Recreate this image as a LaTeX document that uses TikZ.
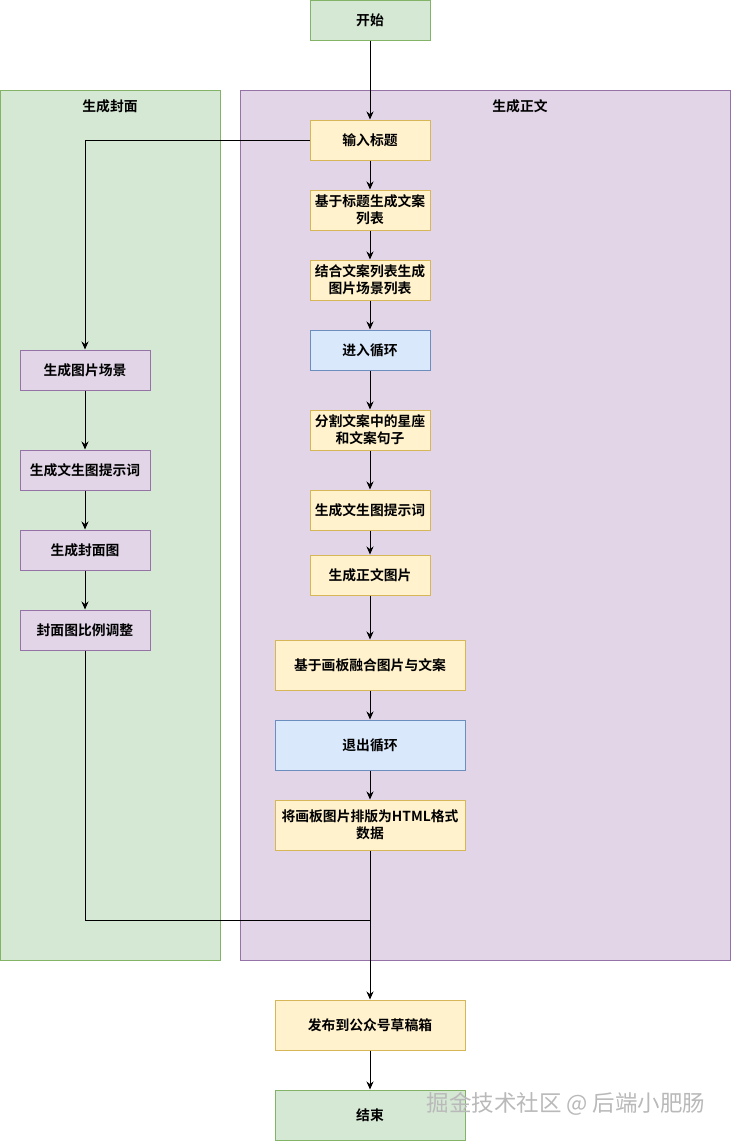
\documentclass[tikz,border=0pt]{standalone}
\usepackage{fontspec}
\setmainfont{Liberation Sans}
\newfontfamily\cjk{Noto Sans CJK SC}[BoldFont={Noto Sans CJK SC Bold}]
\usetikzlibrary{arrows.meta}
\definecolor{gfill}{HTML}{D5E8D4}\definecolor{gline}{HTML}{82B366}
\definecolor{pfill}{HTML}{E1D5E7}\definecolor{pline}{HTML}{9673A6}
\definecolor{yfill}{HTML}{FFF2CC}\definecolor{yline}{HTML}{D6B656}
\definecolor{bfill}{HTML}{DAE8FC}\definecolor{bline}{HTML}{6C8EBF}
\tikzset{
  base/.style={draw, line width=1pt, inner sep=0pt, align=center,
    font=\cjk\bfseries\fontsize{13.8}{16.7}\selectfont},
  gbox/.style={base, fill=gfill, draw=gline},
  pbox/.style={base, fill=pfill, draw=pline},
  ybox/.style={base, fill=yfill, draw=yline},
  bbox/.style={base, fill=bfill, draw=bline},
  narrow/.style={minimum width=120pt, minimum height=40pt},
  left/.style={minimum width=130pt, minimum height=40pt},
  wide/.style={minimum width=190pt, minimum height=50pt},
  cont/.style={draw, line width=1pt, inner sep=0pt},
  ctitle/.style={font=\cjk\bfseries\fontsize{13.8}{16.7}\selectfont, inner sep=0pt},
  conn/.style={line width=1pt, -{Stealth[length=8pt,width=7pt]}},
  plain/.style={line width=1pt}
}
\begin{document}
\begin{tikzpicture}[x=1pt,y=-1pt]
\useasboundingbox (0,0) rectangle (731,1141);
% containers
\node[cont, fill=gfill, draw=gline, minimum width=220pt, minimum height=870pt] (lc) at (110,525) {};
\node[cont, fill=pfill, draw=pline, minimum width=490pt, minimum height=870pt] (rc) at (485,525) {};
\node[ctitle] (lct) at (110,106) {生成封面};
\node[ctitle] (rct) at (520,106) {生成正文};
% main column
\node[gbox, narrow] (start) at (370,20) {开始};
\node[ybox, narrow] (n1) at (370,140) {输入标题};
\node[ybox, narrow] (n2) at (370,210) {基于标题生成文案\\列表};
\node[ybox, narrow] (n3) at (370,280) {结合文案列表生成\\图片场景列表};
\node[bbox, narrow] (n4) at (370,350) {进入循环};
\node[ybox, narrow] (n5) at (370,430) {分割文案中的星座\\和文案句子};
\node[ybox, narrow] (n6) at (370,510) {生成文生图提示词};
\node[ybox, narrow] (n7) at (370,575) {生成正文图片};
\node[ybox, wide] (n8) at (370,665) {基于画板融合图片与文案};
\node[bbox, wide] (n9) at (370,745) {退出循环};
\node[ybox, wide] (n10) at (370,825) {将画板图片排版为HTML格式\\数据};
\node[ybox, wide] (n11) at (370,1025) {发布到公众号草稿箱};
\node[gbox, wide] (end) at (370,1115) {结束};
% left column
\node[pbox, left] (l1) at (85,370) {生成图片场景};
\node[pbox, left] (l2) at (85,470) {生成文生图提示词};
\node[pbox, left] (l3) at (85,550) {生成封面图};
\node[pbox, left] (l4) at (85,630) {封面图比例调整};
% connectors
\draw[conn] (start) -- (n1);
\draw[conn] (n1) -- (n2);
\draw[conn] (n2) -- (n3);
\draw[conn] (n3) -- (n4);
\draw[conn] (n4) -- (n5);
\draw[conn] (n5) -- (n6);
\draw[conn] (n6) -- (n7);
\draw[conn] (n7) -- (n8);
\draw[conn] (n8) -- (n9);
\draw[conn] (n9) -- (n10);
\draw[conn] (n10) -- (n11);
\draw[conn] (n11) -- (end);
\draw[conn] (n1.west) -| (l1.north);
\draw[conn] (l1) -- (l2);
\draw[conn] (l2) -- (l3);
\draw[conn] (l3) -- (l4);
\coordinate (j) at (370,920);
\draw[plain] (l4.south) |- (j);
% watermark
\node[font=\cjk\fontsize{22.5}{26}\selectfont, text=gray!55, inner sep=0pt] (wm) at (566,1104) {掘金技术社区 @ 后端小肥肠};
\end{tikzpicture}
\end{document}
